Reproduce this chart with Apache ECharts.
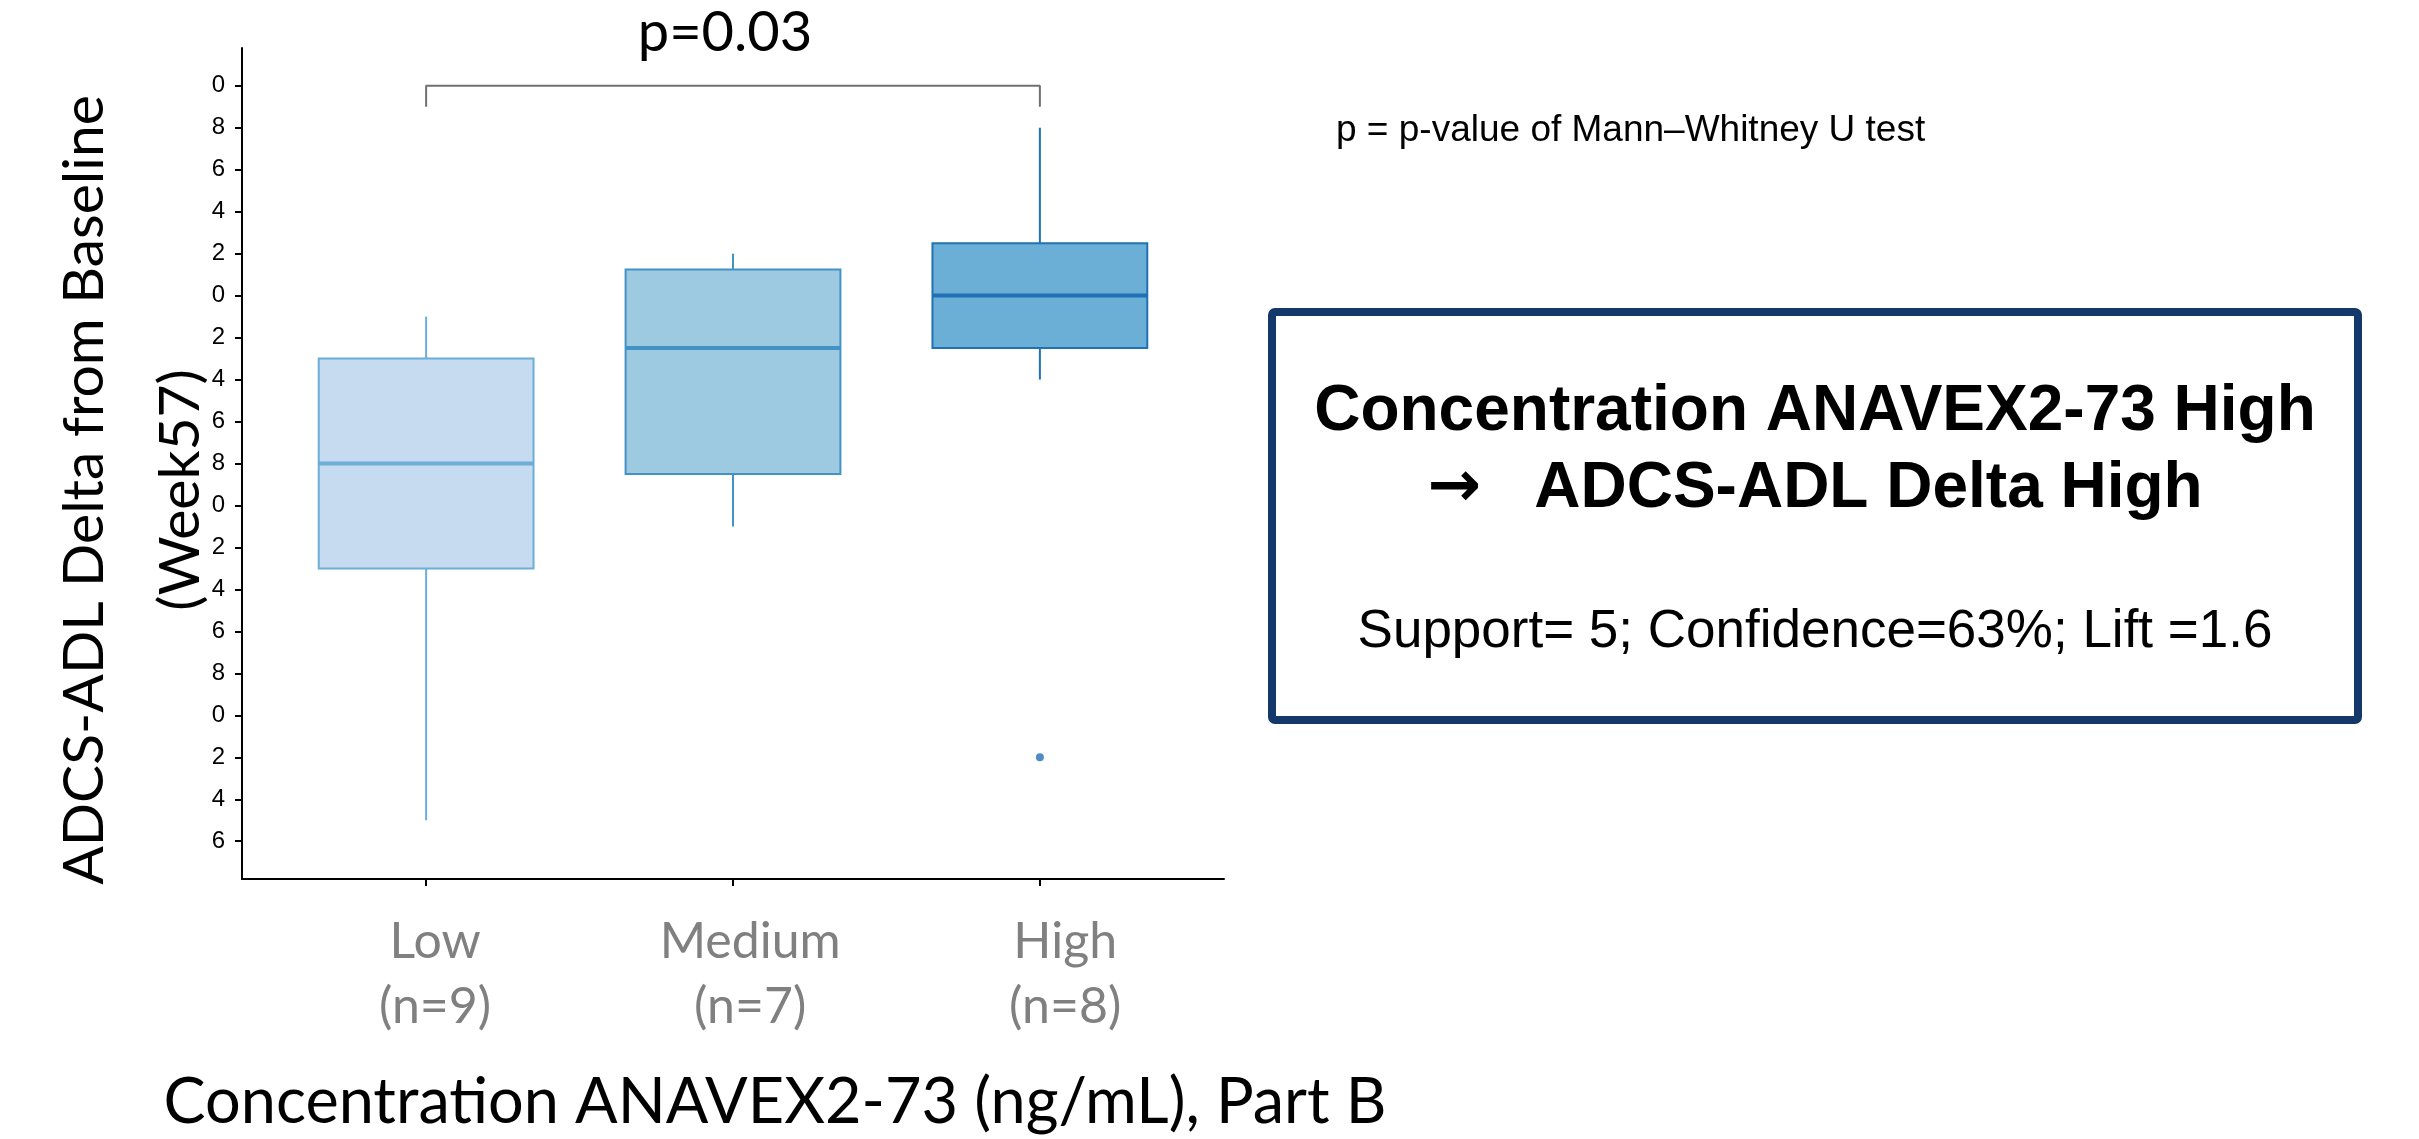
<!DOCTYPE html>
<html>
<head>
<meta charset="utf-8">
<script src="https://cdn.jsdelivr.net/npm/echarts@6/dist/echarts.min.js"></script>
<style>html,body{margin:0;padding:0;background:#fff}#c{width:2419px;height:1139px}</style>
</head>
<body>
<div id="c"></div>
<script>
// ---- data ----
const categories = ['Low', 'Medium', 'High'];
const groupCounts = ['n=9', 'n=7', 'n=8'];
const whiskerLow = [-25, -11, -4];
const q1 = [-13, -8.5, -2.5];
const median = [-8, -2.5, 0];
const q3 = [-3, 1.25, 2.5];
const whiskerHigh = [-1, 2, 8];
const outliers = [[2, -22]];
const yTickValues = [10, 8, 6, 4, 2, 0, -2, -4, -6, -8, -10, -12, -14, -16, -18, -20, -22, -24, -26];
const yTickLabels = ['0', '8', '6', '4', '2', '0', '2', '4', '6', '8', '0', '2', '4', '6', '8', '0', '2', '4', '6'];
const bracket = [[0, 9], [0, 10], [2, 10], [2, 9]];
const pText = 'p=0.03';

// ---- styles ----
const fills = ['#c6dbef', '#9ecae1', '#6baed6'];
const strokes = ['#6baed6', '#4292c6', '#2171b5'];

const boxData = categories.map((c, i) => [i, whiskerLow[i], q1[i], median[i], q3[i], whiskerHigh[i]]);
const catIdx = [0, 1, 2];

const chart = echarts.init(document.getElementById('c'));
chart.setOption({
  animation: false,
  backgroundColor: '#fff',
  grid: { left: 242, right: 1195, top: 48, bottom: 260, outerBoundsMode: 'none' },
  xAxis: [{
    type: 'value', min: -0.6, max: 2.6,
    splitLine: { show: false },
    axisLine: { show: true, onZero: false, lineStyle: { color: '#000', width: 2 } },
    axisTick: { show: true, customValues: catIdx, length: 7, lineStyle: { color: '#000', width: 2 } },
    axisLabel: { show: false }
  }, {
    type: 'value', min: -0.613, max: 2.504, position: 'bottom',
    splitLine: { show: false },
    axisLine: { show: false, onZero: false },
    axisTick: { show: false },
    axisLabel: {
      customValues: catIdx, margin: 30,
      formatter: v => categories[Math.round(v)] + '\n(' + groupCounts[Math.round(v)] + ')',
      color: '#808080', fontFamily: 'Lato', fontSize: 50, lineHeight: 65
    }
  }],
  yAxis: {
    type: 'value', min: -27.8, max: 11.8,
    splitLine: { show: false },
    axisLine: { show: true, onZero: false, lineStyle: { color: '#000', width: 2 } },
    axisTick: { show: true, customValues: yTickValues, length: 7, lineStyle: { color: '#000', width: 2 } },
    axisLabel: {
      customValues: yTickValues, margin: 17,
      formatter: v => { const k = yTickValues.indexOf(v); return k >= 0 ? yTickLabels[k] : ''; },
      color: '#000', fontFamily: 'Liberation Sans', fontSize: 24
    }
  },
  series: [
    {
      type: 'custom',
      xAxisIndex: 0,
      data: boxData,
      renderItem: function (params, api) {
        const x = api.value(0);
        const i = params.dataIndex;
        const hw = 0.35;
        const pMin = api.coord([x, api.value(1)]);
        const pQ1 = api.coord([x, api.value(2)]);
        const pMed = api.coord([x, api.value(3)]);
        const pQ3 = api.coord([x, api.value(4)]);
        const pMax = api.coord([x, api.value(5)]);
        const l = api.coord([x - hw, 0])[0];
        const r = api.coord([x + hw, 0])[0];
        return {
          type: 'group',
          children: [
            { type: 'line', shape: { x1: pMin[0], y1: pMin[1], x2: pQ1[0], y2: pQ1[1] }, style: { stroke: strokes[i], lineWidth: 2 } },
            { type: 'line', shape: { x1: pQ3[0], y1: pQ3[1], x2: pMax[0], y2: pMax[1] }, style: { stroke: strokes[i], lineWidth: 2 } },
            { type: 'rect', shape: { x: l, y: pQ3[1], width: r - l, height: pQ1[1] - pQ3[1] }, style: { fill: fills[i], stroke: strokes[i], lineWidth: 2 } },
            { type: 'line', shape: { x1: l, y1: pMed[1], x2: r, y2: pMed[1] }, style: { stroke: strokes[i], lineWidth: 4 } }
          ]
        };
      }
    },
    {
      type: 'scatter', xAxisIndex: 0, data: outliers, symbolSize: 8,
      itemStyle: { color: '#2171b5' }
    },
    {
      type: 'line', xAxisIndex: 0, data: bracket, showSymbol: false, symbol: 'none',
      lineStyle: { color: '#707070', width: 2 }
    }
  ],
  graphic: [
    { type: 'text', x: 725, y: 33, style: { text: pText, fontFamily: 'Lato', fontSize: 56, fill: '#000', align: 'center', verticalAlign: 'middle' } },
    { type: 'text', x: 133, y: 490, rotation: Math.PI / 2, style: { text: 'ADCS-ADL Delta from Baseline\n(Week57)', fontFamily: 'Lato', fontSize: 57, lineHeight: 96, fill: '#000', align: 'center', verticalAlign: 'middle' } },
    { type: 'text', x: 775, y: 1103, style: { text: 'Concentration ANAVEX2-73 (ng/mL), Part B', fontFamily: 'Lato', fontSize: 63, fill: '#000', align: 'center', verticalAlign: 'middle' } },
    { type: 'text', x: 1336, y: 131, style: { text: 'p = p-value of Mann\u2013Whitney U test', fontFamily: 'Liberation Sans', fontSize: 37, fill: '#000', align: 'left', verticalAlign: 'middle' } },
    { type: 'rect', shape: { x: 1272, y: 312, width: 1086, height: 408, r: 3 }, style: { fill: '#fff', stroke: '#15386a', lineWidth: 8 } },
    { type: 'text', x: 1815, y: 412, style: { text: 'Concentration ANAVEX2-73 High', fontFamily: 'Liberation Sans', fontWeight: 'bold', fontSize: 64, fill: '#000', align: 'center', verticalAlign: 'middle' } },
    { type: 'text', x: 1815, y: 489, style: {
        text: '{arr|\u2192}   ADCS-ADL Delta High', fontFamily: 'Liberation Sans', fontWeight: 'bold', fontSize: 64, fill: '#000', align: 'center', verticalAlign: 'middle',
        rich: { arr: { fontFamily: 'DejaVu Sans', fontWeight: 'bold', fontSize: 64, fill: '#000' } }
    } },
    { type: 'text', x: 1815, y: 632, style: { text: 'Support= 5; Confidence=63%; Lift =1.6', fontFamily: 'Liberation Sans', fontSize: 53, fill: '#000', align: 'center', verticalAlign: 'middle' } }
  ]
});
</script>
</body>
</html>
